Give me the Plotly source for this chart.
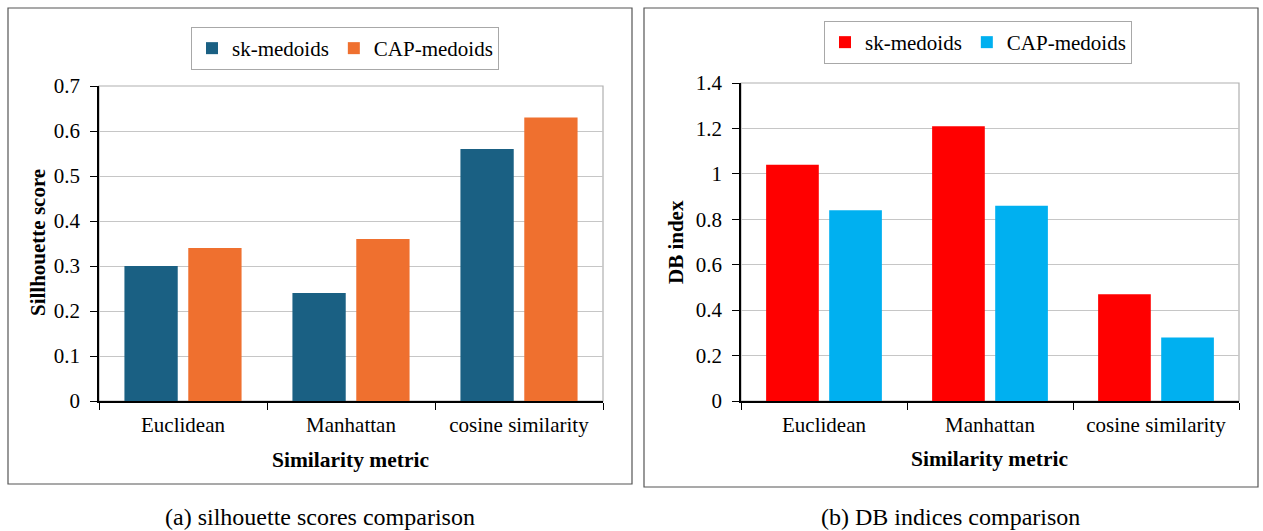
import plotly.graph_objects as go

categories = ["Euclidean", "Manhattan", "cosine similarity"]
series_names = ["sk-medoids", "CAP-medoids"]
silhouette_sk = [0.30, 0.24, 0.56]
silhouette_cap = [0.34, 0.36, 0.63]
db_sk = [1.04, 1.21, 0.47]
db_cap = [0.84, 0.86, 0.28]
sil_ticks = [0, 0.1, 0.2, 0.3, 0.4, 0.5, 0.6, 0.7]
db_ticks = [0, 0.2, 0.4, 0.6, 0.8, 1, 1.2, 1.4]

W, H = 1263, 531
FONT = "'Liberation Serif', 'Times New Roman', Times, 'DejaVu Serif', serif"

def px(x):
    return x / W

def py(y):
    return (H - y) / H

fig = go.Figure()
fig.add_trace(go.Bar(x=categories, y=silhouette_sk, name=series_names[0], marker_color="#1a6083",
                     marker_line_width=0, xaxis="x", yaxis="y", legend="legend"))
fig.add_trace(go.Bar(x=categories, y=silhouette_cap, name=series_names[1], marker_color="#ef702f",
                     marker_line_width=0, xaxis="x", yaxis="y", legend="legend"))
fig.add_trace(go.Bar(x=categories, y=db_sk, name=series_names[0], marker_color="#ff0000",
                     marker_line_width=0, xaxis="x2", yaxis="y2", legend="legend2"))
fig.add_trace(go.Bar(x=categories, y=db_cap, name=series_names[1], marker_color="#00b0f0",
                     marker_line_width=0, xaxis="x2", yaxis="y2", legend="legend2"))

tickfont = dict(family=FONT, size=21, color="black")
xcommon = dict(type="category", showline=True, linecolor="black", linewidth=1.5,
               ticks="outside", tickson="boundaries", ticklen=7, tickcolor="black",
               tickfont=tickfont, showgrid=False, fixedrange=True, automargin=False,
               ticklabelstandoff=4)
ycommon = dict(showline=True, linecolor="black", linewidth=1.5, ticks="outside", ticklen=7,
               tickcolor="black", tickfont=tickfont, showgrid=True, gridcolor="#c6c6c6",
               gridwidth=1.2, zeroline=False, fixedrange=True, automargin=False,
               ticklabelstandoff=6)

fig.update_layout(
    width=W, height=H,
    margin=dict(l=0, r=0, t=0, b=0, autoexpand=False),
    paper_bgcolor="white", plot_bgcolor="white",
    barmode="group", bargap=0.24, bargroupgap=0.165,
    font=dict(family=FONT, size=21, color="black"),
    xaxis=dict(domain=[px(99), px(603)], anchor="y", **xcommon),
    yaxis=dict(domain=[py(401), py(86)], anchor="x", range=[0, 0.7], tickvals=sil_ticks, **ycommon),
    xaxis2=dict(domain=[px(741), px(1239)], anchor="y2", **xcommon),
    yaxis2=dict(domain=[py(401), py(83)], anchor="x2", range=[0, 1.4], tickvals=db_ticks, **ycommon),
    legend=dict(orientation="h", x=px(345), xanchor="center", y=py(27), yanchor="top",
                bordercolor="#a8a8a8", borderwidth=1, font=dict(family=FONT, size=21),
                itemsizing="constant"),
    legend2=dict(orientation="h", x=px(978), xanchor="center", y=py(21), yanchor="top",
                 bordercolor="#a8a8a8", borderwidth=1, font=dict(family=FONT, size=21),
                 itemsizing="constant"),
    showlegend=True,
)

shapes = []
# panel frames
shapes.append(dict(type="rect", xref="paper", yref="paper", x0=px(8), x1=px(632), y0=py(484), y1=py(8),
                   line=dict(color="#555555", width=1.2), layer="below"))
shapes.append(dict(type="rect", xref="paper", yref="paper", x0=px(644), x1=px(1258), y0=py(487), y1=py(8),
                   line=dict(color="#555555", width=1.2), layer="below"))
# plot area borders (grey)
for xr, yr in (("x domain", "y domain"), ("x2 domain", "y2 domain")):
    shapes.append(dict(type="rect", xref=xr, yref=yr, x0=0, x1=1, y0=0, y1=1,
                       line=dict(color="#b0b0b0", width=1.2), layer="below"))
fig.update_layout(shapes=shapes)

def note(text, x, y, size, angle=0):
    return dict(text=text, x=px(x), y=py(y), xref="paper", yref="paper", xanchor="center",
                yanchor="middle", textangle=angle, showarrow=False,
                font=dict(family=FONT, size=size, color="black"))

ann = [
    note("<b>Sillhouette score</b>", 38, 243, 21, -90),
    note("<b>DB index</b>", 676, 242, 21, -90),
    note("<b>Similarity metric</b>", 350, 460, 21.5),
    note("<b>Similarity metric</b>", 990, 459, 21.5),
    note("(a) silhouette scores comparison", 320, 517, 24),
    note("(b) DB indices comparison", 951, 517, 24),
]
fig.update_layout(annotations=ann)

fig.write_html("out.html")
